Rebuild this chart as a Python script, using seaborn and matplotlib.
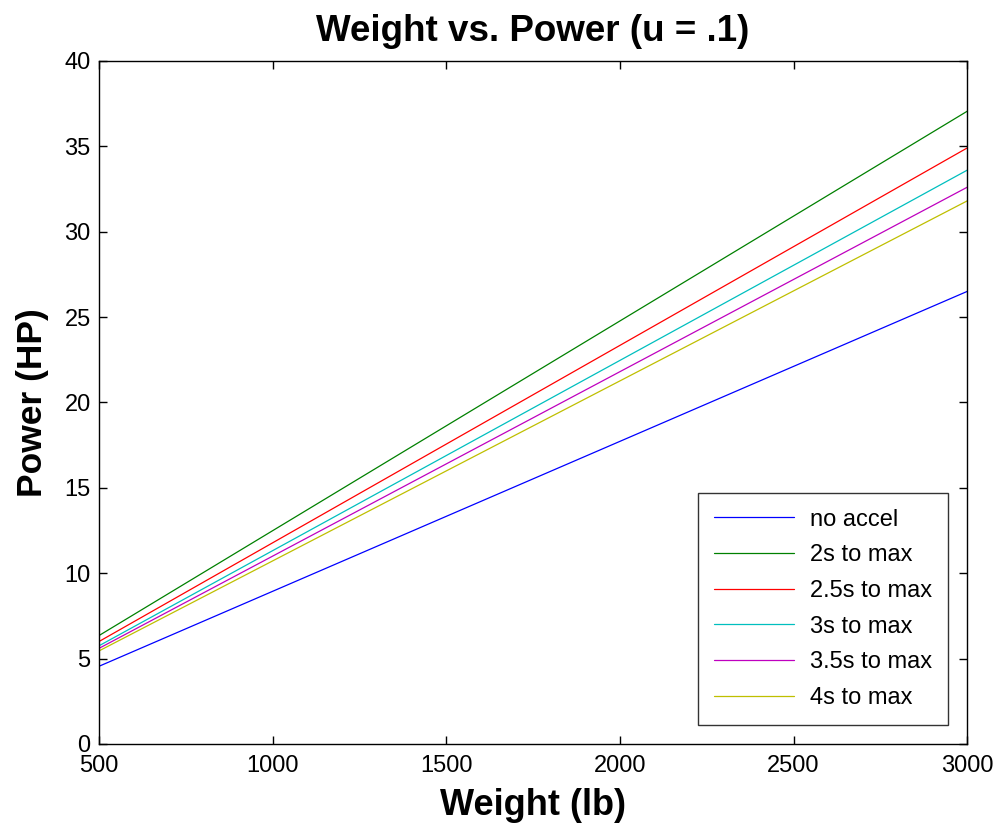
import matplotlib
matplotlib.use("Agg")
import matplotlib.pyplot as plt
import seaborn as sns
import pandas as pd

weight = [500, 3000]
series_names = ["no accel", "2s to max", "2.5s to max", "3s to max", "3.5s to max", "4s to max"]
no_accel = [4.55, 26.5]
s2 = [6.35, 37.05]
s25 = [6.0, 34.9]
s3 = [5.75, 33.6]
s35 = [5.6, 32.6]
s4 = [5.45, 31.8]
colors = ["#0000ff", "#008000", "#ff0000", "#00bfbf", "#bf00bf", "#bfbf00"]

rows = []
for name, vals in zip(series_names, [no_accel, s2, s25, s3, s35, s4]):
    for w, p in zip(weight, vals):
        rows.append({"Weight": w, "Power": p, "Series": name})
df = pd.DataFrame(rows)

sns.set_style("white")
plt.rcParams["font.family"] = ["Liberation Sans", "DejaVu Sans"]
plt.rcParams["text.color"] = "black"
plt.rcParams["axes.labelcolor"] = "black"
plt.rcParams["xtick.color"] = "black"
plt.rcParams["ytick.color"] = "black"

fig = plt.figure(figsize=(9.99, 8.24), dpi=100)
ax = fig.add_axes([0.0991, 0.0971, 0.869, 0.829])
sns.lineplot(data=df, x="Weight", y="Power", hue="Series", hue_order=series_names,
             palette=colors, linewidth=0.9, ax=ax)

ax.set_xlim(500, 3000)
ax.set_ylim(0, 40)
ax.set_xticks([500, 1000, 1500, 2000, 2500, 3000])
ax.set_yticks(range(0, 41, 5))
ax.tick_params(axis="both", direction="in", length=6, width=1, labelsize=17,
               top=True, right=True, bottom=True, left=True,
               colors="black", labelcolor="black")
ax.tick_params(axis="x", pad=8)
ax.tick_params(axis="y", pad=6)
for sp in ax.spines.values():
    sp.set_color("black")
    sp.set_linewidth(1)
ax.set_title("Weight vs. Power (u = .1)", fontsize=26.5, fontweight="bold", pad=14,
             color="black")
ax.set_xlabel("Weight (lb)", fontsize=26, fontweight="bold", labelpad=8, color="black")
ax.set_ylabel("Power (HP)", fontsize=25.5, fontweight="bold", labelpad=11, color="black")

leg = ax.legend(loc="lower right", fontsize=17, frameon=True, fancybox=False,
                edgecolor="black", handlelength=3.35, handletextpad=0.7,
                borderaxespad=0.8, labelspacing=0.58, borderpad=0.68)
leg.get_frame().set_linewidth(1)
for txt in leg.get_texts():
    txt.set_color("black")
for line in leg.get_lines():
    line.set_linewidth(0.9)

fig.savefig("out.png", dpi=100, facecolor="white")
